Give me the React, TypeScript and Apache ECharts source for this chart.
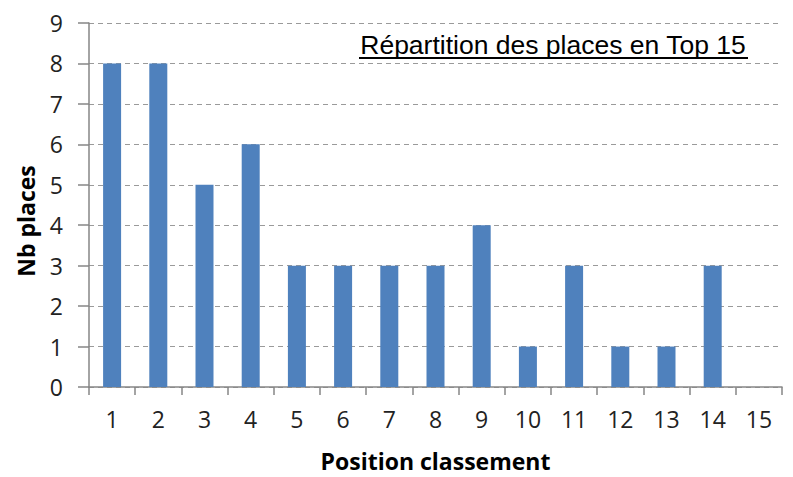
import React, { useEffect, useRef } from "react";
import * as echarts from "echarts";

const categories = ["1", "2", "3", "4", "5", "6", "7", "8", "9", "10", "11", "12", "13", "14", "15"];
const places = [8, 8, 5, 6, 3, 3, 3, 3, 4, 1, 3, 1, 1, 3, 0];
const chartTitle = "Répartition des places en Top 15";
const xName = "Position classement";
const yName = "Nb places";

export default function App() {
  const ref = useRef<HTMLDivElement>(null);
  useEffect(() => {
    if (!ref.current) return;
    const chart = echarts.init(ref.current, undefined, { renderer: "svg" });
    chart.setOption({
      animation: false,
      backgroundColor: "#ffffff",
      grid: { left: 89, right: 11, top: 23, bottom: 85, containLabel: false },
      graphic: [
        {
          type: "text",
          x: 553,
          y: 45,
          style: {
            text: chartTitle,
            font: "26.5px 'Liberation Sans', Arial, sans-serif",
            fill: "#000",
            align: "center",
            verticalAlign: "middle",
          },
        },
        {
          type: "line",
          shape: { x1: 359, y1: 58, x2: 748, y2: 58 },
          style: { stroke: "#000", lineWidth: 2 },
        },
        {
          type: "text",
          x: 26,
          y: 221,
          rotation: Math.PI / 2,
          style: {
            text: yName,
            font: "bold 23px 'Open Sans', sans-serif",
            fill: "#000",
            align: "center",
            verticalAlign: "middle",
          },
        },
      ],
      xAxis: {
        type: "category",
        data: categories,
        name: xName,
        nameLocation: "middle",
        nameGap: 62,
        nameTextStyle: { fontFamily: "Open Sans", fontWeight: "bold", fontSize: 23, color: "#000" },
        axisLine: { lineStyle: { color: "#868686", width: 1.5 } },
        axisTick: { show: true, length: 8, lineStyle: { color: "#868686", width: 1.5 } },
        axisLabel: { fontFamily: "Open Sans", fontSize: 23, color: "#222", margin: 20 },
      },
      yAxis: {
        type: "value",
        min: 0,
        max: 9,
        interval: 1,
        axisLine: { show: true, lineStyle: { color: "#868686", width: 1.5 } },
        axisTick: { show: true, length: 11, lineStyle: { color: "#868686", width: 1.5 } },
        axisLabel: { fontFamily: "Open Sans", fontSize: 23, color: "#222", margin: 26 },
        splitLine: { show: true, lineStyle: { color: "#9a9a9a", type: [5, 4], width: 1.2 } },
      },
      series: [
        {
          type: "bar",
          data: places,
          barWidth: 18,
          itemStyle: { color: "#4f81bd" },
        },
      ],
    });
    return () => chart.dispose();
  }, []);
  return <div ref={ref} style={{ width: 793, height: 477, position: "absolute", left: 0, top: 0 }} />;
}
